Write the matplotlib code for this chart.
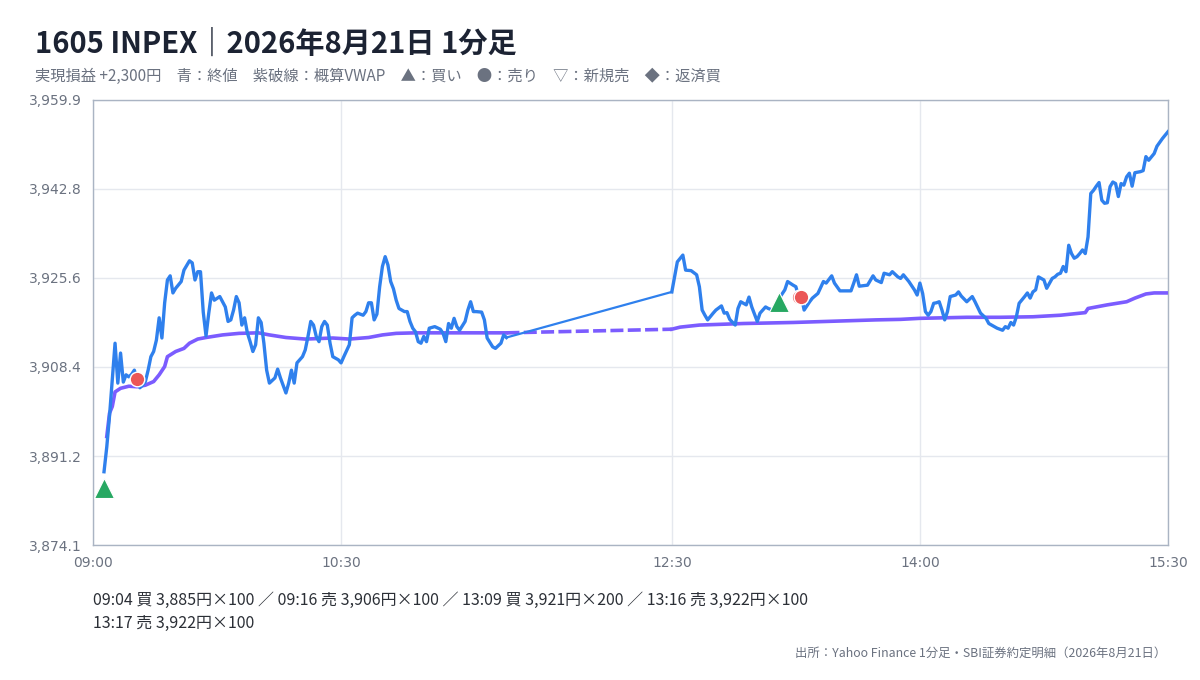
import numpy as np
import matplotlib
matplotlib.use("Agg")
import matplotlib.pyplot as plt

plt.rcParams['font.family'] = ['Noto Sans CJK JP', 'DejaVu Sans']

# 1分足 終値 (前場 / 後場), 読み取り値
am_time = ["09:04", "09:05", "09:06", "09:07", "09:08", "09:09", "09:10", "09:11", "09:12", "09:13",
           "09:14", "09:15", "09:16", "09:17", "09:18", "09:19", "09:20", "09:21", "09:22", "09:23",
           "09:24", "09:25", "09:26", "09:27", "09:28", "09:29", "09:30", "09:32", "09:33", "09:35",
           "09:36", "09:37", "09:38", "09:39", "09:40", "09:41", "09:42", "09:43", "09:44", "09:46",
           "09:47", "09:48", "09:49", "09:50", "09:51", "09:52", "09:53", "09:54", "09:55", "09:56",
           "09:57", "09:58", "09:59", "10:00", "10:01", "10:02", "10:03", "10:04", "10:06", "10:07",
           "10:08", "10:10", "10:11", "10:12", "10:13", "10:14", "10:16", "10:17", "10:18", "10:19",
           "10:20", "10:21", "10:22", "10:23", "10:24", "10:25", "10:26", "10:27", "10:29", "10:30",
           "10:31", "10:33", "10:34", "10:35", "10:36", "10:38", "10:39", "10:40", "10:41", "10:42",
           "10:43", "10:44", "10:45", "10:46", "10:47", "10:48", "10:49", "10:50", "10:51", "10:53",
           "10:54", "10:55", "10:56", "10:57", "10:58", "10:59", "11:00", "11:01", "11:02", "11:04",
           "11:06", "11:07", "11:08", "11:09", "11:10", "11:11", "11:12", "11:13", "11:15", "11:16",
           "11:17", "11:18", "11:19", "11:21", "11:22", "11:23", "11:25", "11:26", "11:28", "11:29",
           "11:30"]
am_close = [3888.2, 3893.0, 3899.0, 3905.9, 3913.0, 3905.3, 3911.1, 3905.5, 3906.9, 3906.5,
            3907.0, 3907.8, 3906.0, 3904.4, 3904.9, 3905.6, 3907.8, 3910.4, 3911.4, 3913.6,
            3917.9, 3914.0, 3920.8, 3925.2, 3926.0, 3922.7, 3923.6, 3924.9, 3927.1, 3928.9,
            3928.5, 3925.2, 3926.8, 3926.8, 3919.0, 3914.4, 3918.8, 3922.7, 3921.3, 3922.0,
            3921.0, 3920.0, 3917.2, 3917.5, 3919.4, 3922.0, 3920.8, 3916.5, 3917.9, 3915.0,
            3913.3, 3911.4, 3912.7, 3917.9, 3917.0, 3913.0, 3907.8, 3905.3, 3906.3, 3908.0,
            3906.3, 3903.4, 3905.3, 3907.8, 3905.3, 3909.2, 3910.4, 3911.7, 3914.3, 3917.2,
            3916.5, 3914.3, 3913.3, 3916.2, 3917.2, 3916.5, 3913.0, 3910.4, 3909.8, 3909.2,
            3910.4, 3912.7, 3917.9, 3918.4, 3918.8, 3918.4, 3919.1, 3920.8, 3920.8, 3917.5,
            3918.6, 3923.9, 3927.8, 3929.7, 3928.1, 3924.9, 3923.5, 3921.3, 3919.7, 3919.1,
            3919.1, 3917.2, 3915.9, 3915.2, 3913.3, 3913.0, 3914.3, 3913.3, 3915.9, 3916.2,
            3915.7, 3914.9, 3913.3, 3916.8, 3915.9, 3917.8, 3916.2, 3915.5, 3917.2, 3919.4,
            3921.0, 3919.1, 3919.1, 3919.0, 3917.5, 3914.0, 3912.3, 3912.0, 3913.0, 3914.6,
            3914.1]

pm_time = ["12:30", "12:31", "12:32", "12:34", "12:35", "12:37", "12:39", "12:40", "12:41", "12:42",
           "12:43", "12:45", "12:46", "12:48", "12:49", "12:50", "12:51", "12:53", "12:54", "12:55",
           "12:57", "12:58", "12:59", "13:01", "13:02", "13:04", "13:05", "13:07", "13:09", "13:11",
           "13:12", "13:14", "13:15", "13:16", "13:17", "13:18", "13:20", "13:21", "13:23", "13:25",
           "13:26", "13:28", "13:29", "13:31", "13:35", "13:36", "13:37", "13:38", "13:41", "13:43",
           "13:44", "13:46", "13:47", "13:49", "13:50", "13:52", "13:53", "13:54", "13:56", "13:58",
           "13:59", "14:00", "14:01", "14:02", "14:03", "14:04", "14:05", "14:06", "14:07", "14:08",
           "14:09", "14:10", "14:11", "14:13", "14:14", "14:15", "14:17", "14:19", "14:20", "14:22",
           "14:24", "14:25", "14:26", "14:28", "14:30", "14:31", "14:32", "14:33", "14:34", "14:35",
           "14:36", "14:38", "14:39", "14:40", "14:41", "14:42", "14:43", "14:45", "14:46", "14:48",
           "14:49", "14:50", "14:51", "14:52", "14:53", "14:54", "14:55", "14:56", "14:57", "14:58",
           "14:59", "15:00", "15:01", "15:02", "15:03", "15:04", "15:05", "15:06", "15:07", "15:08",
           "15:09", "15:10", "15:11", "15:12", "15:13", "15:14", "15:15", "15:16", "15:17", "15:18",
           "15:20", "15:21", "15:22", "15:23", "15:25", "15:26", "15:28", "15:30"]
pm_close = [3922.9, 3925.8, 3928.7, 3930.0, 3927.1, 3927.0, 3926.2, 3923.9, 3919.4, 3918.4,
            3917.5, 3918.8, 3919.4, 3920.2, 3918.8, 3918.9, 3917.6, 3916.5, 3919.7, 3921.0,
            3920.4, 3921.9, 3920.0, 3917.2, 3918.8, 3920.0, 3919.7, 3919.3, 3921.7, 3923.3,
            3924.9, 3924.2, 3923.9, 3922.0, 3922.0, 3919.4, 3921.0, 3921.7, 3922.6, 3924.9,
            3924.6, 3926.0, 3924.6, 3923.1, 3923.1, 3924.6, 3926.2, 3924.0, 3924.2, 3926.0,
            3925.2, 3924.7, 3926.5, 3926.2, 3926.8, 3925.8, 3925.5, 3926.2, 3924.9, 3923.3,
            3922.3, 3924.6, 3922.6, 3919.1, 3918.4, 3919.1, 3920.7, 3920.8, 3921.0, 3919.4,
            3917.5, 3919.1, 3922.0, 3922.3, 3922.9, 3922.1, 3921.0, 3922.0, 3921.0, 3918.8,
            3917.8, 3916.8, 3916.5, 3915.9, 3915.5, 3916.2, 3915.9, 3917.0, 3916.5, 3918.1,
            3920.7, 3922.0, 3922.7, 3921.7, 3922.9, 3923.3, 3925.8, 3925.2, 3923.6, 3925.5,
            3925.8, 3926.3, 3926.5, 3927.8, 3926.8, 3931.9, 3930.3, 3929.4, 3929.7, 3930.3,
            3931.0, 3930.3, 3933.5, 3941.9, 3942.5, 3943.3, 3944.0, 3940.6, 3940.0, 3940.1,
            3943.2, 3944.1, 3943.8, 3941.3, 3943.8, 3943.5, 3945.1, 3945.8, 3943.3, 3945.9,
            3946.1, 3946.3, 3949.0, 3948.3, 3949.6, 3951.0, 3952.5, 3953.8]

# 概算VWAP
am_vwap_time = ["09:05", "09:06", "09:07", "09:08", "09:10", "09:13", "09:16", "09:19", "09:22", "09:24",
                "09:26", "09:27", "09:30", "09:33", "09:35", "09:38", "09:41", "09:47", "09:53", "10:00",
                "10:04", "10:10", "10:17", "10:27", "10:33", "10:40", "10:45", "10:50", "10:57", "11:30"]
am_vwap = [3895.0, 3899.5, 3900.8, 3903.6, 3904.3, 3904.7, 3904.6, 3904.9, 3905.6, 3906.9,
           3908.5, 3910.4, 3911.4, 3912.0, 3913.0, 3913.8, 3914.1, 3914.6, 3914.9, 3915.0,
           3914.6, 3914.1, 3913.8, 3914.0, 3913.8, 3914.1, 3914.6, 3914.9, 3915.0, 3915.0]
pm_vwap_time = ["12:30", "12:33", "12:40", "12:56", "13:14", "13:26", "13:44", "13:53", "14:00", "14:17",
                "14:29", "14:41", "14:51", "15:00", "15:01", "15:08", "15:15", "15:18", "15:22", "15:25",
                "15:30"]
pm_vwap = [3915.7, 3916.1, 3916.5, 3916.8, 3917.0, 3917.2, 3917.5, 3917.6, 3917.8, 3918.0,
           3918.0, 3918.1, 3918.4, 3918.9, 3919.7, 3920.4, 3921.0, 3921.7, 3922.5, 3922.7,
           3922.7]

# 約定 (SBI証券約定明細)
trade_time = ["09:04", "09:16", "13:09", "13:16", "13:17"]
trade_side = ["買", "売", "買", "売", "売"]
trade_price = [3885, 3906, 3921, 3922, 3922]
trade_qty = [100, 100, 200, 100, 100]

y_min, y_max = 3874.06, 3959.935
x_ticks = ["09:00", "10:30", "12:30", "14:00", "15:30"]


def to_min(t):
    h, m = t.split(":")
    return (int(h) - 9) * 60 + int(m)


def to_mins(ts):
    return np.array([to_min(t) for t in ts])


BLUE = "#2f80ed"
PURPLE = "#7b5cff"
GREEN = "#27a862"
RED = "#eb5757"
GRID = "#e5e8ee"
FRAME = "#aab4c3"
MUTED = "#6b7280"

fig = plt.figure(figsize=(12, 6.8), dpi=100)
ax = fig.add_axes([0.0775, 0.1985, 0.8958, 0.6545])

am_x, pm_x = to_mins(am_time), to_mins(pm_time)
amv_x, pmv_x = to_mins(am_vwap_time), to_mins(pm_vwap_time)

# 終値
ax.plot(am_x, am_close, color=BLUE, lw=2.4, zorder=4, solid_joinstyle="round")
ax.plot(pm_x, pm_close, color=BLUE, lw=2.4, zorder=4, solid_joinstyle="round")
ax.plot([am_x[-1], pm_x[0]], [am_close[-1], pm_close[0]], color=BLUE, lw=1.6, zorder=4)

# VWAP
ax.plot(amv_x, am_vwap, color=PURPLE, lw=2.6, zorder=3)
ax.plot(pmv_x, pm_vwap, color=PURPLE, lw=2.6, zorder=3)
ax.plot([amv_x[-1], pmv_x[0]], [am_vwap[-1], pm_vwap[0]], color=PURPLE, lw=2.6,
        dashes=(3.6, 1.2), zorder=3)

# 約定マーカー
for t, s, p in zip(trade_time, trade_side, trade_price):
    if s == "買":
        ax.plot(to_min(t), p, marker="^", ms=14, color=GREEN, mec="white", mew=0.8, zorder=6)
    else:
        ax.plot(to_min(t), p, marker="o", ms=10.5, color=RED, mec="white", mew=1.0, zorder=6)

ax.set_xlim(0, to_min("15:30"))
ax.set_ylim(y_min, y_max)
yt = np.linspace(y_min, y_max, 6)
ax.set_yticks(yt)
ax.set_yticklabels([f"{v:,.1f}" for v in yt], family="DejaVu Sans")
ax.set_xticks([to_min(t) for t in x_ticks])
ax.set_xticklabels(x_ticks, family="DejaVu Sans")
ax.tick_params(length=0, labelsize=10, labelcolor=MUTED, pad=8)
ax.grid(True, color=GRID, lw=1)
ax.set_axisbelow(True)
for sp in ax.spines.values():
    sp.set_color(FRAME)
    sp.set_linewidth(1)

# 実現損益
pnl = 0
pos = []
for s, p, q in zip(trade_side, trade_price, trade_qty):
    if s == "買":
        pos.append([p, q])
    else:
        left = q
        while left > 0:
            bp, bq = pos[0]
            n = min(bq, left)
            pnl += (p - bp) * n
            left -= n
            pos[0][1] -= n
            if pos[0][1] == 0:
                pos.pop(0)

fig.text(0.029, 0.935, "1605 INPEX｜2026年8月21日 1分足", fontsize=21, fontweight="bold",
         color="#1c2333", va="center", ha="left")
fig.text(0.029, 0.888,
         f"実現損益 {pnl:+,}円　青：終値　紫破線：概算VWAP　▲：買い　●：売り　▽：新規売　◆：返済買",
         fontsize=11, color=MUTED, va="center", ha="left")

items = [f"{t} {s} {p:,}円×{q}" for t, s, p, q in zip(trade_time, trade_side, trade_price, trade_qty)]
fig.text(0.0775, 0.1176, " ／ ".join(items[:4]), fontsize=11.5, color="#2b2f36", va="center", ha="left")
fig.text(0.0775, 0.0838, " ／ ".join(items[4:]), fontsize=11.5, color="#2b2f36", va="center", ha="left")
fig.text(0.972, 0.0397, "出所：Yahoo Finance 1分足・SBI証券約定明細（2026年8月21日）", fontsize=8.9,
         color=MUTED, va="center", ha="right")

fig.savefig("out.png", dpi=100)
